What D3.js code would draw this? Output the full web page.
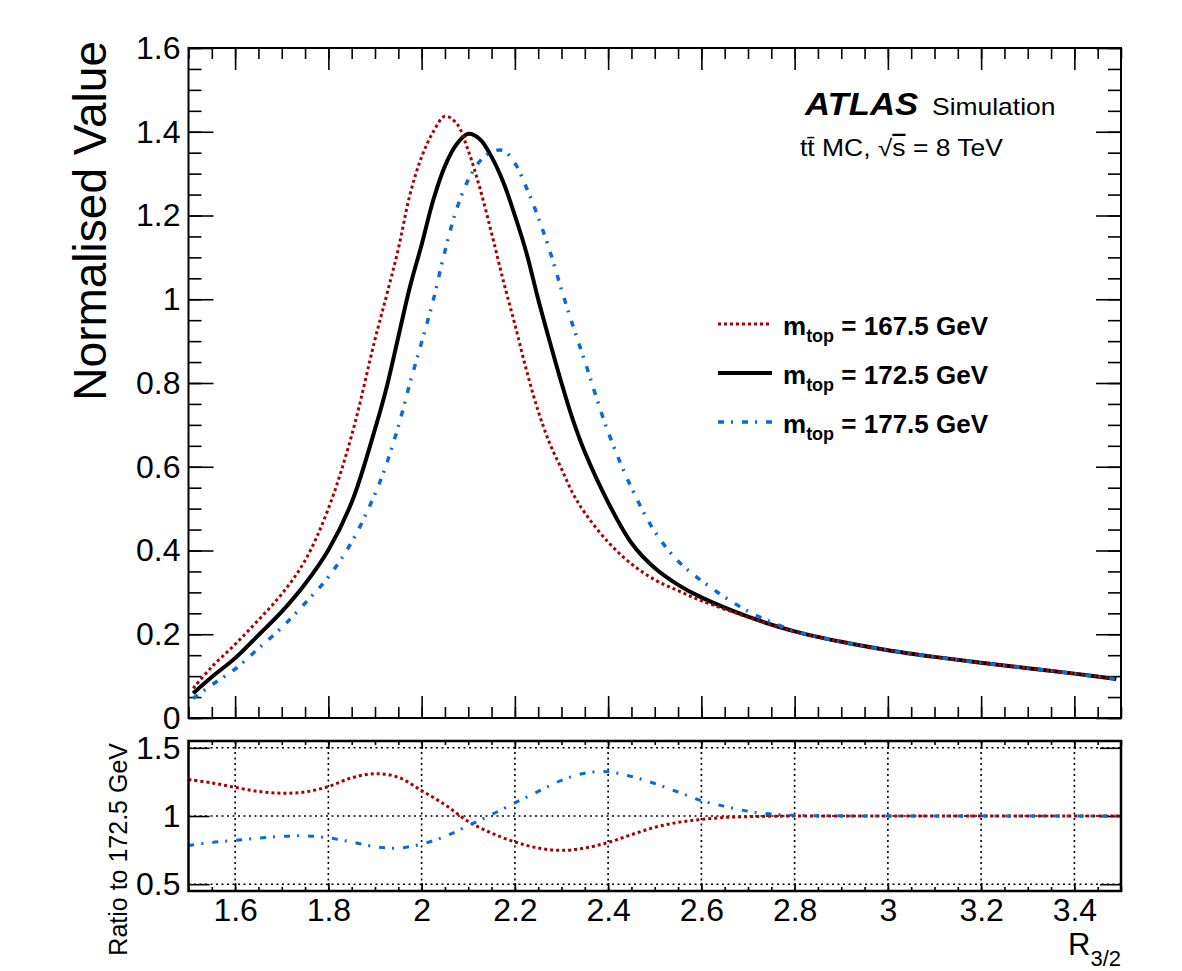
<!DOCTYPE html>
<html>
<head>
<meta charset="utf-8">
<script src="https://cdn.jsdelivr.net/npm/d3@7"></script>
<style>
  body { margin: 0; background: #fff; }
  text { font-family: "Liberation Sans", Arial, Helvetica, sans-serif; }
</style>
</head>
<body>
<script>
// R_3/2 sampling points of the normalised shapes
const r32 = [1.51, 1.55, 1.60, 1.65, 1.70, 1.75, 1.80, 1.85, 1.90, 1.925, 1.95, 1.975,
  2.00, 2.025, 2.05, 2.075, 2.10, 2.125, 2.15, 2.175, 2.20, 2.225, 2.25, 2.275,
  2.30, 2.325, 2.35, 2.40, 2.45, 2.50, 2.55, 2.60, 2.70, 2.80, 2.90, 3.00,
  3.10, 3.20, 3.30, 3.40, 3.49]

const norm1675 = [0.071, 0.122, 0.176, 0.234, 0.296, 0.376, 0.50, 0.675, 0.904, 1.01, 1.12, 1.25,
  1.34, 1.40, 1.437, 1.42, 1.355, 1.265, 1.158, 1.045, 0.94, 0.83, 0.733, 0.655,
  0.595, 0.535, 0.49, 0.42, 0.368, 0.33, 0.304, 0.28, 0.241, 0.206, 0.182, 0.162,
  0.146, 0.132, 0.119, 0.106, 0.093]

const norm1725 = [0.059, 0.098, 0.143, 0.198, 0.254, 0.32, 0.401, 0.515, 0.69, 0.79, 0.91, 1.03,
  1.13, 1.237, 1.318, 1.37, 1.395, 1.382, 1.34, 1.28, 1.20, 1.11, 1.00, 0.898,
  0.80, 0.71, 0.635, 0.515, 0.418, 0.358, 0.318, 0.288, 0.242, 0.207, 0.182, 0.162,
  0.146, 0.132, 0.119, 0.106, 0.093]

const norm1775 = [0.047, 0.079, 0.117, 0.166, 0.216, 0.274, 0.337, 0.42, 0.535, 0.608, 0.696, 0.80,
  0.897, 0.998, 1.115, 1.215, 1.285, 1.33, 1.352, 1.355, 1.325, 1.266, 1.196, 1.115,
  1.023, 0.935, 0.852, 0.683, 0.55, 0.445, 0.375, 0.328, 0.255, 0.208, 0.182, 0.162,
  0.146, 0.132, 0.119, 0.106, 0.093]

// ratio panel
const ratioX = [1.50, 1.55, 1.60, 1.65, 1.70, 1.75, 1.80, 1.85, 1.90, 1.95, 2.00, 2.05,
  2.10, 2.15, 2.20, 2.25, 2.30, 2.35, 2.40, 2.45, 2.50, 2.55, 2.60, 2.65, 2.70, 2.75,
  2.80, 3.00, 3.20, 3.50]

const ratio1675 = [1.267, 1.243, 1.21, 1.18, 1.167, 1.176, 1.216, 1.28, 1.31, 1.284, 1.186, 1.083,
  0.96, 0.875, 0.81, 0.765, 0.748, 0.765, 0.806, 0.863, 0.917, 0.953, 0.975, 0.99, 0.995, 0.998,
  1.0, 1.0, 1.0, 1.0]

const ratio1775 = [0.784, 0.806, 0.821, 0.838, 0.85, 0.855, 0.84, 0.809, 0.775, 0.765, 0.794, 0.85,
  0.929, 1.01, 1.096, 1.18, 1.262, 1.314, 1.324, 1.29, 1.238, 1.176, 1.113, 1.071, 1.035, 1.015,
  1.005, 1.0, 1.0, 1.0]

const xTicks = [1.6, 1.8, 2, 2.2, 2.4, 2.6, 2.8, 3, 3.2, 3.4]
const yTicksMain = [0, 0.2, 0.4, 0.6, 0.8, 1, 1.2, 1.4, 1.6]
const yTicksRatio = [0.5, 1, 1.5]
const massLabels = ['167.5', '172.5', '177.5']

const RED = '#a80000'
const BLUE = '#0a6ad6'

const svg = d3.select('body')
  .append('svg')
  .attr('width', 1182)
  .attr('height', 971)

const x = d3.scaleLinear().domain([1.5, 3.5]).range([188.5, 1121])
const y = d3.scaleLinear().domain([0, 1.6]).range([718, 48])
const yr = d3.scaleLinear().domain([0.45, 1.55]).range([891, 741])

const minorX = d3.range(1.5, 3.5001, 0.05)
const minorY = d3.range(0, 1.6001, 0.05)

function axisG(axis, tx, ty, labels) {
  const g = svg.append('g')
    .attr('transform', `translate(${tx},${ty})`)
    .call(axis)
  g.select('.domain').remove()
  g.selectAll('line').attr('stroke', '#000').attr('stroke-width', 1.6)
  if(labels) {
    g.selectAll('text')
      .attr('font-size', 32)
      .attr('fill', '#000')
      .attr('font-family', '"Liberation Sans", Arial, Helvetica, sans-serif')
  } else {
    g.selectAll('text').remove()
  }
  return g
}

// ---- ratio panel grid (drawn first, under everything)
const grid = svg.append('g')
grid.selectAll('line.gx')
  .data(xTicks)
  .enter()
  .append('line')
  .attr('x1', d => x(d)).attr('x2', d => x(d))
  .attr('y1', yr(1.55)).attr('y2', yr(0.45))
grid.selectAll('line.gy')
  .data(yTicksRatio)
  .enter()
  .append('line')
  .attr('x1', x(1.5)).attr('x2', x(3.5))
  .attr('y1', d => yr(d)).attr('y2', d => yr(d))
grid.selectAll('line')
  .attr('stroke', '#000')
  .attr('stroke-width', 1.6)
  .attr('stroke-dasharray', '2,3.5')

// ---- main panel axes
const fmt = d => d
axisG(d3.axisLeft(y).tickValues(yTicksMain).tickSizeInner(-25).tickSizeOuter(0).tickPadding(8).tickFormat(fmt), 188.5, 0, true)
axisG(d3.axisLeft(y).tickValues(minorY).tickSizeInner(-13).tickSizeOuter(0), 188.5, 0, false)
axisG(d3.axisRight(y).tickValues(yTicksMain).tickSizeInner(-25).tickSizeOuter(0), 1121, 0, false)
axisG(d3.axisRight(y).tickValues(minorY).tickSizeInner(-13).tickSizeOuter(0), 1121, 0, false)
axisG(d3.axisBottom(x).tickValues(xTicks).tickSizeInner(-22).tickSizeOuter(0), 0, 718, false)
axisG(d3.axisBottom(x).tickValues(minorX).tickSizeInner(-11).tickSizeOuter(0), 0, 718, false)
axisG(d3.axisTop(x).tickValues(xTicks).tickSizeInner(-22).tickSizeOuter(0), 0, 48, false)
axisG(d3.axisTop(x).tickValues(minorX).tickSizeInner(-11).tickSizeOuter(0), 0, 48, false)

// ---- ratio panel axes
axisG(d3.axisLeft(yr).tickValues(yTicksRatio).tickSizeInner(-21).tickSizeOuter(0).tickPadding(8).tickFormat(fmt), 188.5, 0, true)
axisG(d3.axisRight(yr).tickValues(yTicksRatio).tickSizeInner(-21).tickSizeOuter(0), 1121, 0, false)
axisG(d3.axisBottom(x).tickValues(xTicks).tickSizeInner(-8).tickSizeOuter(0).tickPadding(7).tickFormat(fmt), 0, 891, true)
axisG(d3.axisBottom(x).tickValues(minorX).tickSizeInner(-4).tickSizeOuter(0), 0, 891, false)
axisG(d3.axisTop(x).tickValues(xTicks).tickSizeInner(-8).tickSizeOuter(0), 0, 741, false)
axisG(d3.axisTop(x).tickValues(minorX).tickSizeInner(-4).tickSizeOuter(0), 0, 741, false)

// ---- clip paths
const defs = svg.append('defs')
defs.append('clipPath').attr('id', 'clipMain')
  .append('rect').attr('x', 188.5).attr('y', 48).attr('width', 1121 - 188.5).attr('height', 670)
defs.append('clipPath').attr('id', 'clipRatio')
  .append('rect').attr('x', 188.5).attr('y', 741).attr('width', 1121 - 188.5).attr('height', 150)

// ---- main curves
const lineMain = d3.line()
  .x(d => x(d[0]))
  .y(d => y(d[1]))
  .curve(d3.curveCatmullRom.alpha(0.5))

const series = [
  { vals: norm1725, color: '#000', width: 4, dash: null },
  { vals: norm1675, color: RED, width: 3, dash: '3,3' },
  { vals: norm1775, color: BLUE, width: 3.5, dash: '6,7,2,9' },
]

const gMain = svg.append('g').attr('clip-path', 'url(#clipMain)')
series.forEach(s => {
  gMain.append('path')
    .datum(r32.map((v, i) => [v, s.vals[i]]))
    .attr('d', lineMain)
    .attr('fill', 'none')
    .attr('stroke', s.color)
    .attr('stroke-width', s.width)
    .attr('stroke-dasharray', s.dash)
})

// ---- ratio curves
const lineRatio = d3.line()
  .x(d => x(d[0]))
  .y(d => yr(d[1]))
  .curve(d3.curveCatmullRom.alpha(0.5))

const gRatio = svg.append('g').attr('clip-path', 'url(#clipRatio)')
const ratioSeries = [
  { vals: ratio1675, color: RED, width: 3, dash: '3,3' },
  { vals: ratio1775, color: BLUE, width: 3, dash: '6,7,2,9' },
]
ratioSeries.forEach(s => {
  gRatio.append('path')
    .datum(ratioX.map((v, i) => [v, s.vals[i]]))
    .attr('d', lineRatio)
    .attr('fill', 'none')
    .attr('stroke', s.color)
    .attr('stroke-width', s.width)
    .attr('stroke-dasharray', s.dash)
})

// ---- frames
svg.append('rect')
  .attr('x', 188.5).attr('y', 48).attr('width', 1121 - 188.5).attr('height', 670)
  .attr('fill', 'none').attr('stroke', '#000').attr('stroke-width', 2)
svg.append('rect')
  .attr('x', 188.5).attr('y', 741).attr('width', 1121 - 188.5).attr('height', 150)
  .attr('fill', 'none').attr('stroke', '#000').attr('stroke-width', 2.5)

// ---- axis titles
svg.append('text')
  .attr('transform', 'translate(106,41) rotate(-90)')
  .attr('text-anchor', 'end')
  .attr('font-size', 46)
  .text('Normalised Value')

svg.append('text')
  .attr('transform', 'translate(127,743) rotate(-90)')
  .attr('text-anchor', 'end')
  .attr('font-size', 25)
  .text('Ratio to 172.5 GeV')

const xt = svg.append('text')
  .attr('x', 1121).attr('y', 955)
  .attr('text-anchor', 'end')
  .attr('font-size', 31)
xt.append('tspan').text('R')
xt.append('tspan').attr('font-size', 22).attr('dy', 11).text('3/2')

// ---- ATLAS label
svg.append('g')
  .attr('transform', 'translate(805,115) scale(1.12,1)')
  .append('text')
  .attr('font-size', 31)
  .attr('font-weight', 'bold')
  .attr('font-style', 'italic')
  .text('ATLAS')
svg.append('g')
  .attr('transform', 'translate(932,115) scale(1.15,1)')
  .append('text')
  .attr('font-size', 23)
  .text('Simulation')

const sub = svg.append('g')
  .attr('transform', 'translate(800,156) scale(1.15,1)')
  .append('text')
  .attr('font-size', 23)
sub.append('tspan').text('tt\u0304 MC, \u221A')
sub.append('tspan').style('text-decoration', 'overline').text('s')
sub.append('tspan').text(' = 8 TeV')

// ---- legend
const leg = svg.append('g')
const legItems = [series[1], series[0], series[2]]
legItems.forEach((s, i) => {
  const yb = 335 + i * 49
  leg.append('line')
    .attr('x1', 718).attr('x2', 772)
    .attr('y1', yb - 11).attr('y2', yb - 11)
    .attr('stroke', s.color)
    .attr('stroke-width', s.width)
    .attr('stroke-dasharray', s.dash)
  const t = leg.append('text')
    .attr('x', 783).attr('y', yb)
    .attr('font-size', 26)
    .attr('font-weight', 'bold')
  t.append('tspan').text('m')
  t.append('tspan').attr('font-size', 18).attr('dy', 7).text('top')
  t.append('tspan').attr('dy', -7).text(` = ${massLabels[i]} GeV`)
})
</script>
</body>
</html>
